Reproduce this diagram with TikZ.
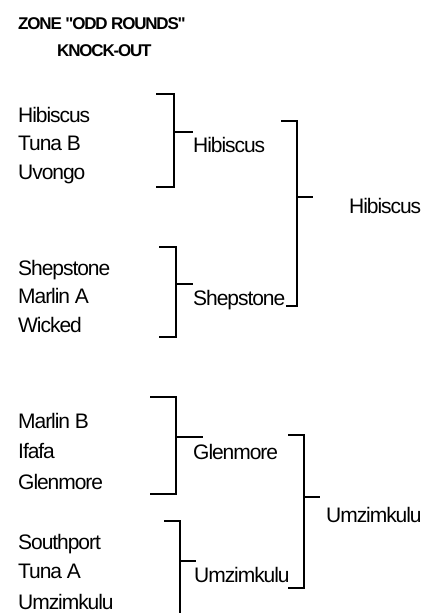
\documentclass[tikz,border=0pt]{standalone}
\usepackage{fontspec}
\setmainfont{Liberation Sans}[LetterSpace=-5]
\newfontfamily\titlefont{Liberation Sans}[LetterSpace=-7]
\begin{document}
\begin{tikzpicture}[x=1pt,y=-1pt,
  team/.style={anchor=base west,inner sep=0pt,font=\fontsize{21}{22}\selectfont},
  ttl/.style={anchor=base west,inner sep=0pt,font=\titlefont\bfseries\fontsize{17}{18}\selectfont},
  brk/.style={line width=1.4pt,line cap=rect}]
\useasboundingbox (0,0) rectangle (427,613);
% titles
\node[ttl] (t1) at (18,29) {ZONE "ODD ROUNDS"};
\node[ttl] (t2) at (57,56) {KNOCK-OUT};
% round 1 teams
\node[team] (a1) at (18,122) {Hibiscus};
\node[team] (a2) at (18,150) {Tuna B};
\node[team] (a3) at (18,179) {Uvongo};
\node[team] (b1) at (18,275) {Shepstone};
\node[team] (b2) at (18,303) {Marlin A};
\node[team] (b3) at (18,332) {Wicked};
\node[team] (c1) at (18,428) {Marlin B};
\node[team] (c2) at (18,458) {Ifafa};
\node[team] (c3) at (18,489) {Glenmore};
\node[team] (d1) at (18,549) {Southport};
\node[team] (d2) at (18,578) {Tuna A};
\node[team] (d3) at (18,609) {Umzimkulu};
% round 2
\node[team] (ra) at (193,152) {Hibiscus};
\node[team] (rb) at (193,305) {Shepstone};
\node[team] (rc) at (193,459) {Glenmore};
\node[team] (rd) at (194,582) {Umzimkulu};
% finals
\node[team] (fa) at (349,213) {Hibiscus};
\node[team] (fb) at (326,522) {Umzimkulu};
% brackets
\draw[brk] (157,94) -- (174,94) -- (174,187) -- (157,187);
\draw[brk] (174,132) -- (192,132);
\draw[brk] (160,247) -- (176,247) -- (176,337) -- (160,337);
\draw[brk] (176,284) -- (192,284);
\draw[brk] (282,121) -- (297,121) -- (297,306) -- (287,306);
\draw[brk] (297,197) -- (312,197);
\draw[brk] (151,397) -- (176,397) -- (176,494) -- (151,494);
\draw[brk] (176,437) -- (202,437);
\draw[brk] (289,435) -- (304,435) -- (304,588) -- (289,588);
\draw[brk] (304,497) -- (319,497);
\draw[brk] (165,521) -- (180,521) -- (180,614);
\draw[brk] (180,561) -- (195,561);
\end{tikzpicture}
\end{document}
